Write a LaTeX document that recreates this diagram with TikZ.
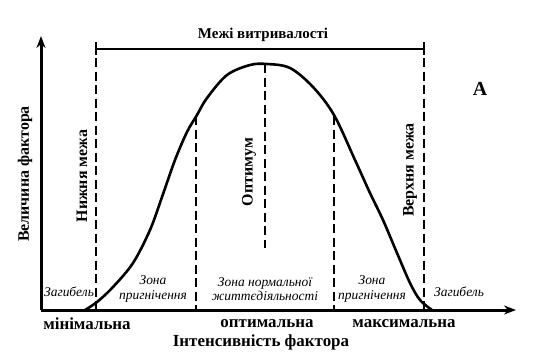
\documentclass[tikz,border=0pt]{standalone}
\usepackage{fontspec}
\setmainfont{Liberation Serif}
\usetikzlibrary{arrows.meta}
\begin{document}
\begin{tikzpicture}[x=1bp,y=-1bp,
  axis/.style={line width=3bp,-{Stealth[length=12bp,width=9bp]}},
  dashline/.style={line width=2.2bp,dash pattern=on 9bp off 4.5bp},
  bar/.style={line width=2.2bp},
  bigtext/.style={font=\bfseries\fontsize{17}{19}\selectfont,inner sep=0pt},
  midtext/.style={font=\bfseries\fontsize{15}{17}\selectfont,inner sep=0pt},
  rottext/.style={font=\bfseries\fontsize{16}{18}\selectfont,inner sep=0pt,rotate=90},
  zone/.style={font=\itshape\fontsize{13.5}{14.5}\selectfont,inner sep=0pt,align=center}]
\useasboundingbox (0,0) rectangle (552,360);
% axes
\coordinate (O) at (41,310);
\coordinate (ytip) at (41,36);
\coordinate (xtip) at (516,310);
\draw[axis] (O) -- (ytip);
\draw[axis] (O) -- (xtip);
% limits bar
\coordinate (bl) at (96,49);
\coordinate (br) at (424,49);
\draw[bar] (bl) -- (br);
\draw[bar] (96,42) -- (96,55);
\draw[bar] (424,42) -- (424,55);
\node[midtext] (title) at (263,35) {Межі витривалості};
% dashed lines
\draw[dashline] (96,58) -- (96,310);
\draw[dashline] (424,58) -- (424,310);
\draw[dashline] (196,116) -- (196,310);
\draw[dashline] (334,116) -- (334,310);
\draw[dashline] (265,64) -- (265,248);
% curve
\draw[line width=2.6bp,line join=round] plot[smooth,tension=0.55] coordinates {
 (85,310) (97,302) (113,287) (133,263) (150,230) (162,197) (175,160)
 (187,132) (197,115) (207,98) (227,75) (250,65) (267,64) (290,68) (313,87)
 (334,115) (355,160) (370,193) (383,220) (397,253) (410,283) (420,300) (432,310)};
% labels
\node[font=\bfseries\fontsize{20}{22}\selectfont,inner sep=0pt] (A) at (480,89) {А};
\node[rottext] (ylab) at (25,174) {Величина фактора};
\node[rottext] (low) at (82,176) {Нижня межа};
\node[rottext] (opt) at (249,172) {Оптимум};
\node[rottext] (up) at (410,170) {Верхня межа};
\node[zone] (d1) at (69,292) {Загибель};
\node[zone] (d2) at (459,292) {Загибель};
\node[zone] (z1) at (153,289) {Зона\\пригнічення};
\node[zone] (z2) at (372,289) {Зона\\пригнічення};
\node[zone] (z3) at (265,289) {Зона нормальної\\життєдіяльності};
\node[bigtext] (min) at (87,324) {мінімальна};
\node[bigtext] (optx) at (267,324) {оптимальна};
\node[bigtext] (max) at (404,324) {максимальна};
\node[bigtext] (xlab) at (261,342) {Інтенсивність фактора};
\end{tikzpicture}
\end{document}
